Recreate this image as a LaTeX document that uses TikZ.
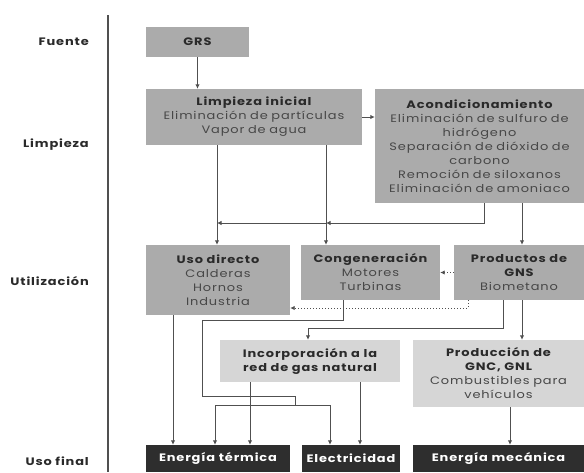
\documentclass[tikz,border=0pt]{standalone}
\usepackage{fontspec}
\setmainfont{Poppins}[FakeStretch=1.2, LetterSpace=8]
\usetikzlibrary{arrows.meta,calc}
\definecolor{boxmid}{HTML}{ABABAB}
\definecolor{boxlight}{HTML}{D6D6D6}
\definecolor{boxdark}{HTML}{2E2E2E}
\definecolor{ttl}{HTML}{2A2A2A}
\definecolor{bodytxt}{HTML}{474747}
\definecolor{linec}{HTML}{505050}
\tikzset{
  box/.style={draw=none, fill=boxmid, align=center, inner sep=1pt, font=\fontsize{10.8}{14}\selectfont, text=bodytxt},
  lbox/.style={box, fill=boxlight},
  dbox/.style={draw=none, fill=boxdark, align=center, text=white, font=\fontsize{10.8}{13}\selectfont\bfseries},
  lab/.style={anchor=east, inner sep=1pt, font=\fontsize{10.8}{13}\selectfont\bfseries, text=ttl},
  conn/.style={draw=linec, line width=1pt},
  arr/.style={conn, -{Latex[length=4.5pt,width=4.5pt]}},
  darr/.style={arr, dotted},
}
\newcommand{\ttlb}[1]{{\bfseries\color{ttl}#1}}
\begin{document}
\begin{tikzpicture}[x=1pt,y=-1pt]
\useasboundingbox[fill=white] (0,0) rectangle (584,472);
% separator
\draw[linec, line width=1.2pt] (108,15) -- (108,472);
% row labels
\node[lab] (lf) at (90,42) {Fuente};
\node[lab] (ll) at (90,145) {Limpieza};
\node[lab] (lu) at (90,281) {Utilización};
\node[lab] (lfin) at (90,461) {Uso final};
% boxes
\node[box, minimum width=103pt, minimum height=30pt] (grs) at (197.5,42) {\ttlb{GRS}};
\node[box, minimum width=216pt, minimum height=56pt, text width=214pt] (limp) at (254,117)
  {\ttlb{Limpieza inicial}\\Eliminación de partículas\\Vapor de agua};
\node[box, minimum width=209pt, minimum height=114pt, text width=207pt] (acond) at (479.5,146)
  {\ttlb{Acondicionamiento}\\Eliminación de sulfuro de\\hidrógeno\\Separación de dióxido de\\carbono\\Remoción de siloxanos\\Eliminación de amoniaco};
\node[box, minimum width=144pt, minimum height=70pt, text width=142pt] (usod) at (218,280)
  {\ttlb{Uso directo}\\Calderas\\Hornos\\Industria};
\node[box, minimum width=139pt, minimum height=55pt, text width=137pt] (cong) at (370.5,272.5)
  {\ttlb{Congeneración}\\Motores\\Turbinas};
\node[box, minimum width=130pt, minimum height=55pt, text width=128pt] (prod) at (519,272.5)
  {\ttlb{Productos de}\\\ttlb{GNS}\\Biometano};
\node[lbox, minimum width=180pt, minimum height=42pt, text width=178pt] (inc) at (310,361)
  {\ttlb{Incorporación a la}\\\ttlb{red de gas natural}};
\node[lbox, minimum width=171pt, minimum height=67pt, text width=169pt] (gnc) at (498.5,373.5)
  {\ttlb{Producción de}\\\ttlb{GNC, GNL}\\Combustibles para\\vehículos};
\node[dbox, minimum width=144pt, minimum height=27pt] (term) at (218,458.5) {Energía térmica};
\node[dbox, minimum width=98pt, minimum height=27pt] (elec) at (351,458.5) {Electricidad};
\node[dbox, minimum width=171pt, minimum height=27pt] (mec) at (498.5,458.5) {Energía mecánica};
% helper coordinates
\coordinate (j1) at (217,223);
\coordinate (j2) at (326,223);
\coordinate (cg1) at (202,320);
\coordinate (cg2) at (295,396);
\coordinate (cg3) at (295,405);
\coordinate (pd1) at (308,328);
\coordinate (dt1) at (290,308);
% connectors
\draw[arr] (grs.south) -- (grs.south |- limp.north);
\draw[arr] (limp.east) -- (limp.east -| acond.west);
\draw[arr] (j1 |- limp.south) -- (j1 |- usod.north);
\draw[arr] (j2 |- limp.south) -- (j2 |- cong.north);
\draw[arr] (484,0 |- acond.south) |- (j2);
\draw[arr] (j2) -- (j1);
\draw[arr] (522,0 |- acond.south) -- (522,0 |- prod.north);
\draw[darr] (prod.west) -- (prod.west -| cong.east);
\draw[darr] (468,0 |- prod.south) |- (dt1 -| usod.east);
\draw[conn] (343,0 |- cong.south) |- (cg1) |- (cg2) -- (cg3);
\draw[arr] (cg3) -| (215,0 |- term.north);
\draw[arr] (cg3) -| (330,0 |- elec.north);
\draw[arr] (503,0 |- prod.south) |- (pd1) -- (pd1 |- inc.north);
\draw[arr] (522,0 |- prod.south) -- (522,0 |- gnc.north);
\draw[arr] (173,0 |- usod.south) -- (173,0 |- term.north);
\draw[arr] (250,0 |- inc.south) -- (250,0 |- term.north);
\draw[arr] (360,0 |- inc.south) -- (360,0 |- elec.north);
\draw[arr] (510,0 |- gnc.south) -- (510,0 |- mec.north);
\end{tikzpicture}
\end{document}
